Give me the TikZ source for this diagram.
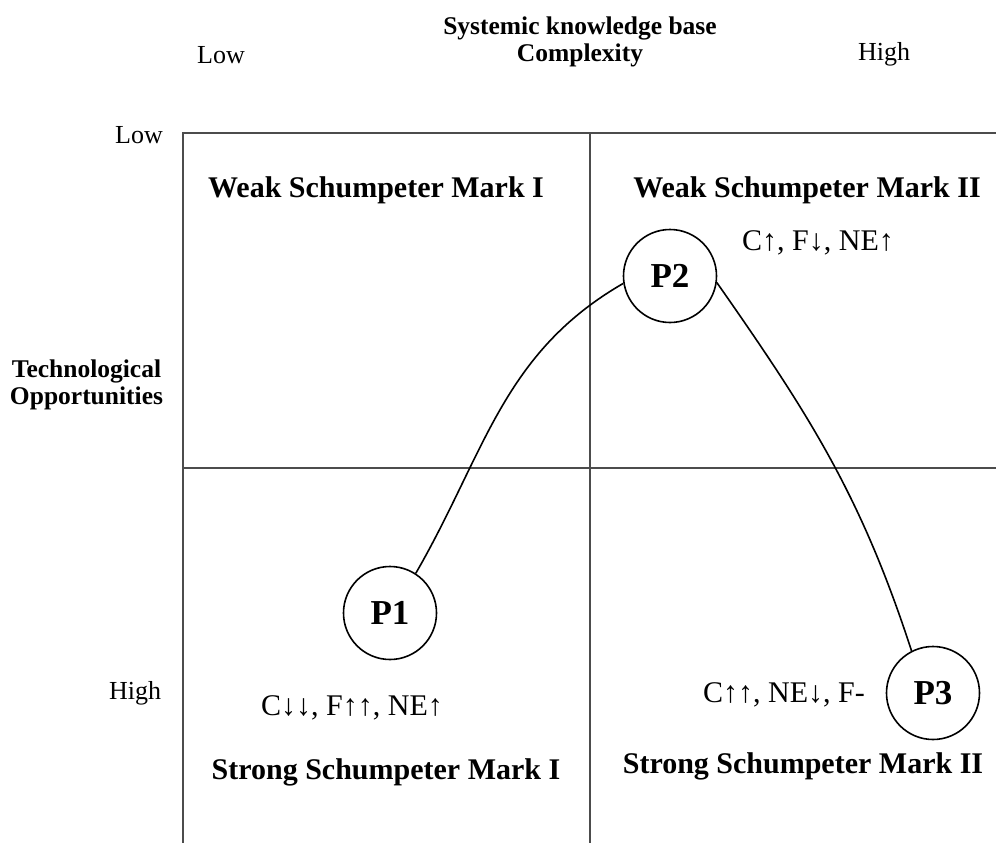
\documentclass[tikz,border=0pt]{standalone}
\usepackage{fontspec}
\setmainfont{Liberation Serif}
\tikzset{
  grid line/.style={line width=1.7pt, black!70},
  quadtitle/.style={font=\fontsize{30}{33}\selectfont\bfseries},
  axislabel/.style={font=\fontsize{26}{29}\selectfont},
  axistitle/.style={font=\fontsize{25.5}{27}\selectfont\bfseries, align=center},
  effect/.style={font=\fontsize{30}{33}\selectfont},
  phase/.style={draw, circle, line width=1.6pt, minimum size=93pt, inner sep=0pt,
    font=\fontsize{35}{38}\selectfont\bfseries},
  trajectory/.style={line width=1.6pt},
}
\begin{document}
\begin{tikzpicture}[x=10pt,y=-10pt]
    \useasboundingbox (0,0) rectangle (99.6,84.3);
    % cadre des quadrants
    \draw[grid line] (99.6,13.3) -- (18.3,13.3) -- (18.3,84.3);
    \draw[grid line] (59,13.3) -- (59,84.3);
    \draw[grid line] (18.3,46.8) -- (99.6,46.8);
    % axe horizontal
    \node[axistitle] (sysbase) at (58,2.8) {Systemic knowledge base};
    \node[axistitle] (complex) at (58,5.5) {Complexity};
    \node[axislabel] (xlow) at (22.1,5.5) {Low};
    \node[axislabel] (xhigh) at (88.4,5.4) {High};
    % axe vertical
    \node[axislabel] (ylow) at (13.9,13.5) {Low};
    \node[axislabel] (yhigh) at (13.5,69.3) {High};
    \node[axistitle] (techopp) at (8.65,38.5) {Technological\\Opportunities};
    % quadrants
    \node[quadtitle] (weakone) at (37.6,19) {Weak Schumpeter Mark I};
    \node[quadtitle] (weaktwo) at (80.7,19) {Weak Schumpeter Mark II};
    \node[quadtitle] (strongone) at (38.6,77.2) {Strong Schumpeter Mark I};
    \node[quadtitle] (strongtwo) at (80.3,76.6) {Strong Schumpeter Mark II};
    % phases
    \node[phase] (P1) at (39,61.3) {P1};
    \node[phase] (P2) at (67,27.6) {P2};
    \node[phase] (P3) at (93.3,69.3) {P3};
    \node[effect] (effone) at (35.2,70.8) {C↓↓, F↑↑, NE↑};
    \node[effect] (efftwo) at (81.8,24.3) {C↑, F↓, NE↑};
    \node[effect] (effthree) at (78.4,69.5) {C↑↑, NE↓, F-};
    % trajectoire
    \draw[trajectory] (P1.57) to[out=60,in=-150] (P2.189);
    \draw[trajectory] (P2.-8) to[out=-55,in=108] (P3.117);
\end{tikzpicture}
\end{document}
